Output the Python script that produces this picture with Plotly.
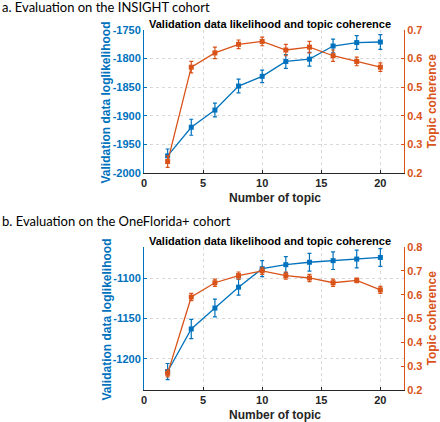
import plotly.graph_objects as go

topics = [2, 4, 6, 8, 10, 12, 14, 16, 18, 20]

# Panel a: INSIGHT cohort
a_ll = [-1970, -1920, -1890, -1848, -1831, -1805, -1801, -1778, -1772, -1771]
a_ll_err = [12, 14, 12, 12, 11, 12, 12, 12, 12, 13]
a_coh = [0.24, 0.57, 0.62, 0.65, 0.66, 0.63, 0.64, 0.61, 0.59, 0.57]
a_coh_err = [0.02, 0.02, 0.02, 0.015, 0.015, 0.02, 0.02, 0.02, 0.015, 0.015]

# Panel b: OneFlorida+ cohort
b_ll = [-1216, -1163, -1137, -1111, -1088, -1083, -1080, -1078, -1076, -1074]
b_ll_err = [10, 12, 11, 10, 10, 10, 11, 11, 11, 11]
b_coh = [0.27, 0.59, 0.65, 0.68, 0.70, 0.68, 0.67, 0.65, 0.66, 0.62]
b_coh_err = [0.015, 0.015, 0.015, 0.015, 0.015, 0.015, 0.015, 0.015, 0.01, 0.015]

subtitles = ["a. Evaluation on the INSIGHT cohort", "b. Evaluation on the OneFlorida+ cohort"]
title = "Validation data likelihood and topic coherence"
x_title = "Number of topic"
yl_title = "Validation data loglikelihood"
yr_title = "Topic coherence"

BLUE = "#0072BD"
ORANGE = "#D95319"
DARK = "#262626"
W, H = 440, 422
FONT = "Liberation Sans"

fig = go.Figure()

def py(p):
    return (H - p) / H

def pxf(p):
    return p / W

x_dom = [pxf(144), pxf(404)]
panels = [
    dict(ll=a_ll, lle=a_ll_err, coh=a_coh, cohe=a_coh_err, top=30, bot=173, sub=0,
         lrange=[-2000, -1750], ltick=[-2000, -1950, -1900, -1850, -1800, -1750],
         rrange=[0.2, 0.7], rtick=[0.2, 0.3, 0.4, 0.5, 0.6, 0.7]),
    dict(ll=b_ll, lle=b_ll_err, coh=b_coh, cohe=b_coh_err, top=247, bot=390, sub=212,
         lrange=[-1239, -1061], ltick=[-1200, -1150, -1100],
         rrange=[0.2, 0.8], rtick=[0.2, 0.3, 0.4, 0.5, 0.6, 0.7, 0.8]),
]

TICK = 11
layout = dict(
    width=W, height=H, margin=dict(l=0, r=0, t=0, b=0, autoexpand=False),
    paper_bgcolor="white", plot_bgcolor="white", showlegend=False,
)
annotations = []

for i, p in enumerate(panels):
    n = i + 1
    xa = "x" if n == 1 else f"x{n}"
    ya_l = "y" if n == 1 else f"y{2*n-1}"
    ya_r = f"y{2*n}"
    xkey = "xaxis" if n == 1 else f"xaxis{n}"
    ylkey = "yaxis" if n == 1 else f"yaxis{2*n-1}"
    yrkey = f"yaxis{2*n}"
    dom = [py(p["bot"]), py(p["top"])]

    fig.add_trace(go.Scatter(
        x=topics, y=p["ll"], xaxis=xa, yaxis=ya_l, mode="lines+markers",
        line=dict(color=BLUE, width=1.3),
        marker=dict(symbol="square", size=5, color=BLUE),
        error_y=dict(type="data", array=p["lle"], color=BLUE, thickness=1.2, width=2),
    ))
    fig.add_trace(go.Scatter(
        x=topics, y=p["coh"], xaxis=xa, yaxis=ya_r, mode="lines+markers",
        line=dict(color=ORANGE, width=1.3),
        marker=dict(symbol="square", size=5, color=ORANGE),
        error_y=dict(type="data", array=p["cohe"], color=ORANGE, thickness=1.2, width=2),
    ))

    layout[xkey] = dict(
        domain=x_dom, range=[0, 22], anchor=ya_l, tickvals=[0, 5, 10, 15, 20],
        ticktext=[f"<b>{v}</b>" for v in [0, 5, 10, 15, 20]],
        showline=True, linecolor=DARK, linewidth=1, ticks="inside", ticklen=3,
        tickcolor=DARK, automargin=False,
        showgrid=True, gridcolor="#d9d9d9", griddash="dot", gridwidth=1,
        zeroline=False, tickfont=dict(family=FONT, size=TICK, color=DARK),
    )
    layout[ylkey] = dict(
        domain=dom, range=p["lrange"], anchor=xa, tickvals=p["ltick"],
        ticktext=[f"<b>{v}</b>" for v in p["ltick"]], automargin=False,
        showline=True, linecolor=BLUE, linewidth=1, ticks="inside", ticklen=3, tickcolor=BLUE,
        showgrid=True, gridcolor="#d9d9d9", griddash="dot", gridwidth=1, zeroline=False,
        tickfont=dict(family=FONT, size=TICK, color=BLUE),
    )
    layout[yrkey] = dict(
        domain=dom, range=p["rrange"], anchor=xa, overlaying=ya_l, side="right",
        tickvals=p["rtick"], ticktext=[f"<b>{v:.1f}</b>" for v in p["rtick"]],
        automargin=False,
        showline=True, linecolor=ORANGE, linewidth=1, ticks="inside", ticklen=3, tickcolor=ORANGE,
        showgrid=False, zeroline=False, tickfont=dict(family=FONT, size=TICK, color=ORANGE),
    )
    mid = (p["top"] + p["bot"]) / 2
    annotations.append(dict(
        text=f"<b>{title}</b>", x=pxf(270), y=py(p["top"] - 6),
        xref="paper", yref="paper", xanchor="center", yanchor="middle", showarrow=False,
        font=dict(family=FONT, size=11, color="black"),
    ))
    annotations.append(dict(
        text=f"<b>{x_title}</b>", x=pxf(275), y=py(p["bot"] + 16),
        xref="paper", yref="paper", xanchor="center", yanchor="top", showarrow=False,
        font=dict(family=FONT, size=12, color=DARK),
    ))
    annotations.append(dict(
        text=f"<b>{yl_title}</b>", x=pxf(106), y=py(mid + 1), textangle=-90,
        xref="paper", yref="paper", xanchor="center", yanchor="middle", showarrow=False,
        font=dict(family=FONT, size=12, color=BLUE),
    ))
    annotations.append(dict(
        text=f"<b>{yr_title}</b>", x=pxf(431), y=py(mid),
        textangle=-90,
        xref="paper", yref="paper", xanchor="center", yanchor="middle", showarrow=False,
        font=dict(family=FONT, size=12, color=ORANGE),
    ))
    annotations.append(dict(
        text=subtitles[i], x=0, y=py(p["sub"] + 7 if i == 0 else p["sub"] + 9), xref="paper", yref="paper",
        xanchor="left", yanchor="middle", showarrow=False,
        font=dict(family="Lato", size=13, color="black"),
    ))

layout["annotations"] = annotations
fig.update_layout(**layout)
fig.write_html(
    "out.html",
    config={"displayModeBar": False},
    post_script="document.body.style.margin='0';document.body.style.overflow='hidden';",
)
